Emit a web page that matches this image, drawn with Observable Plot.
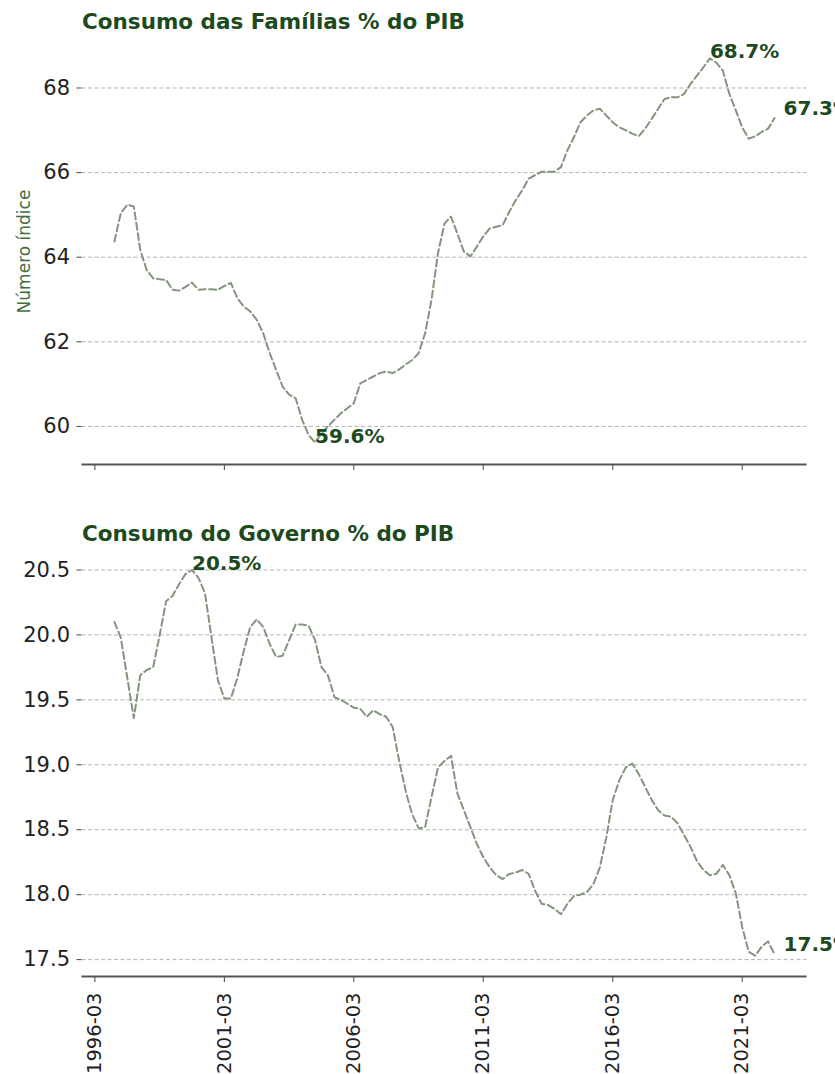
<!DOCTYPE html>
<html>
<head>
<meta charset="utf-8">
<script src="https://cdn.jsdelivr.net/npm/d3@7"></script>
<script src="https://cdn.jsdelivr.net/npm/@observablehq/plot@0.6"></script>
<style>
html, body { margin: 0; padding: 0; background: #fff; overflow: hidden; }
#wrap { position: relative; width: 835px; height: 1074px; overflow: hidden; font-family: "DejaVu Sans", sans-serif; background: #fff; }
.title { position: absolute; left: 82px; font-weight: bold; font-size: 21.5px; line-height: 21px; color: #1d4a1d; white-space: nowrap; }
.chart { position: absolute; left: 0; }
</style>
</head>
<body>
<div id="wrap"></div>
<script>
// ---------- data ----------
const firstQuarter = "1996-12-01"; // quarterly series, one value per quarter
const familias = [
  64.37,
  65.04, 65.24, 65.20, 64.17,
  63.70, 63.50, 63.48, 63.46,
  63.23, 63.21, 63.30, 63.40,
  63.23, 63.24, 63.24, 63.23,
  63.32, 63.39, 63.03, 62.83,
  62.72, 62.52, 62.20, 61.73,
  61.34, 60.94, 60.75, 60.67,
  60.16, 59.80, 59.62, 59.84,
  60.00, 60.16, 60.31, 60.43,
  60.55, 61.02, 61.10, 61.18,
  61.26, 61.30, 61.26, 61.35,
  61.46, 61.57, 61.73, 62.20,
  62.99, 64.10, 64.80, 64.96,
  64.56, 64.13, 64.02, 64.25,
  64.49, 64.68, 64.72, 64.76,
  65.07, 65.35, 65.58, 65.86,
  65.94, 66.02, 66.02, 66.02,
  66.13, 66.53, 66.84, 67.19,
  67.35, 67.47, 67.51, 67.35,
  67.19, 67.07, 67.00, 66.92,
  66.86, 67.04, 67.27, 67.51,
  67.74, 67.78, 67.78, 67.86,
  68.09, 68.29, 68.49, 68.70,
  68.60, 68.41, 67.86, 67.47,
  67.07, 66.80, 66.86, 66.96,
  67.04, 67.29
];
const governo = [
  20.10,
  19.98, 19.67, 19.36, 19.69,
  19.73, 19.75, 20.00, 20.26,
  20.30, 20.39, 20.47, 20.50,
  20.44, 20.32, 19.98, 19.65,
  19.51, 19.51, 19.67, 19.88,
  20.06, 20.12, 20.06, 19.93,
  19.83, 19.84, 19.96, 20.08,
  20.08, 20.07, 19.96, 19.75,
  19.69, 19.52, 19.50, 19.47,
  19.44, 19.43, 19.37, 19.42,
  19.39, 19.37, 19.29, 19.03,
  18.80, 18.62, 18.51, 18.52,
  18.75, 18.98, 19.03, 19.07,
  18.78, 18.65, 18.52, 18.39,
  18.29, 18.21, 18.15, 18.12,
  18.16, 18.17, 18.19, 18.16,
  18.03, 17.93, 17.92, 17.89,
  17.85, 17.93, 17.99, 18.00,
  18.02, 18.08, 18.21, 18.44,
  18.73, 18.88, 18.98, 19.01,
  18.93, 18.83, 18.73, 18.65,
  18.61, 18.60, 18.55, 18.46,
  18.37, 18.26, 18.19, 18.15,
  18.16, 18.23, 18.15, 18.01,
  17.75, 17.56, 17.53, 17.60,
  17.64, 17.54
];
const xTickDates = ["1996-03-01", "2001-03-01", "2006-03-01", "2011-03-01", "2016-03-01", "2021-03-01"];
const famTicks = [60, 62, 64, 66, 68];
const govTicks = [17.5, 18.0, 18.5, 19.0, 19.5, 20.0, 20.5];
const titleFam = "Consumo das Famílias % do PIB";
const titleGov = "Consumo do Governo % do PIB";
const yLabelFam = "Número índice";

// ---------- styles ----------
const GREEN = "#1d4a1d";
const LABEL_GREEN = "#3f6f3f";
const LINE = "#84957e";
const xDomain = [new Date("1995-09-01"), new Date("2023-09-01")];

function series(values) {
  const start = new Date(firstQuarter);
  return values.map((v, i) => ({date: d3.utcMonth.offset(start, 3 * i), value: v}));
}

function chart({values, yDomain, yTicks, yFmt, showXLabels, height, marginTop, marginBottom, extremes, yLabel}) {
  const data = series(values);
  const last = data[data.length - 1];
  const ext = extremes.map(f => f(data));
  const pct = d => d3.format(".1f")(d.value) + "%";
  const marks = [
    Plot.gridY(yTicks, {stroke: "#9a9a9a", strokeOpacity: 0.75, strokeDasharray: "4,2.5", strokeWidth: 1}),
    Plot.axisY(yTicks, {tickSize: 5, tickPadding: 7, tickFormat: yFmt, fontSize: 21, fill: "#222", stroke: "#444", label: null}),
    Plot.axisX(xTickDates.map(d => new Date(d)), {
      tickSize: 6, tickPadding: 10, fontSize: 19.5, fill: "#222", stroke: "#444", label: null,
      tickRotate: showXLabels ? -90 : 0,
      tickFormat: showXLabels ? d3.utcFormat("%Y-%m") : () => ""
    }),
    Plot.ruleY([yDomain[0]], {stroke: "#555", strokeWidth: 2}),
    Plot.lineY(data, {x: "date", y: "value", stroke: LINE, strokeWidth: 2, strokeDasharray: "7,3.5"}),
    Plot.text(ext, {x: "date", y: "value", text: pct, textAnchor: "start", lineAnchor: "bottom", fontWeight: "bold", fontSize: 20, fill: GREEN}),
    Plot.text([last], {x: "date", y: "value", text: pct, textAnchor: "start", lineAnchor: "bottom", dx: 9, dy: -3, fontWeight: "bold", fontSize: 20, fill: GREEN})
  ];
  if (yLabel) {
    marks.push(Plot.text([yLabel], {frameAnchor: "left", textAnchor: "middle", lineAnchor: "middle", rotate: -90, dx: -57.5, fill: LABEL_GREEN, fontSize: 17}));
  }
  return Plot.plot({
    width: 835,
    height,
    marginLeft: 81.5,
    marginRight: 28.5,
    marginTop,
    marginBottom,
    style: {fontFamily: "DejaVu Sans, sans-serif", background: "transparent", overflow: "visible"},
    x: {type: "utc", domain: xDomain},
    y: {domain: yDomain},
    marks
  });
}

const wrap = document.getElementById("wrap");

function place(el, top) {
  el.classList.add("chart");
  el.style.top = top + "px";
  wrap.appendChild(el);
}

const c1 = chart({
  values: familias, yDomain: [59.1, 69.17], yTicks: famTicks, yFmt: d3.format("d"),
  showXLabels: false, height: 480, marginTop: 38, marginBottom: 16,
  extremes: [d => d3.greatest(d, e => e.value), d => d3.least(d, e => e.value)],
  yLabel: yLabelFam
});
place(c1, 0);

const c2 = chart({
  values: governo, yDomain: [17.37, 20.65], yTicks: govTicks, yFmt: d3.format(".1f"),
  showXLabels: true, height: 574, marginTop: 50, marginBottom: 98,
  extremes: [d => d3.greatest(d, e => e.value)],
  yLabel: null
});
place(c2, 500);

const t1 = document.createElement("div");
t1.className = "title"; t1.style.top = "11px"; t1.textContent = titleFam;
wrap.appendChild(t1);
const t2 = document.createElement("div");
t2.className = "title"; t2.style.top = "523px"; t2.textContent = titleGov;
wrap.appendChild(t2);
</script>
</body>
</html>
